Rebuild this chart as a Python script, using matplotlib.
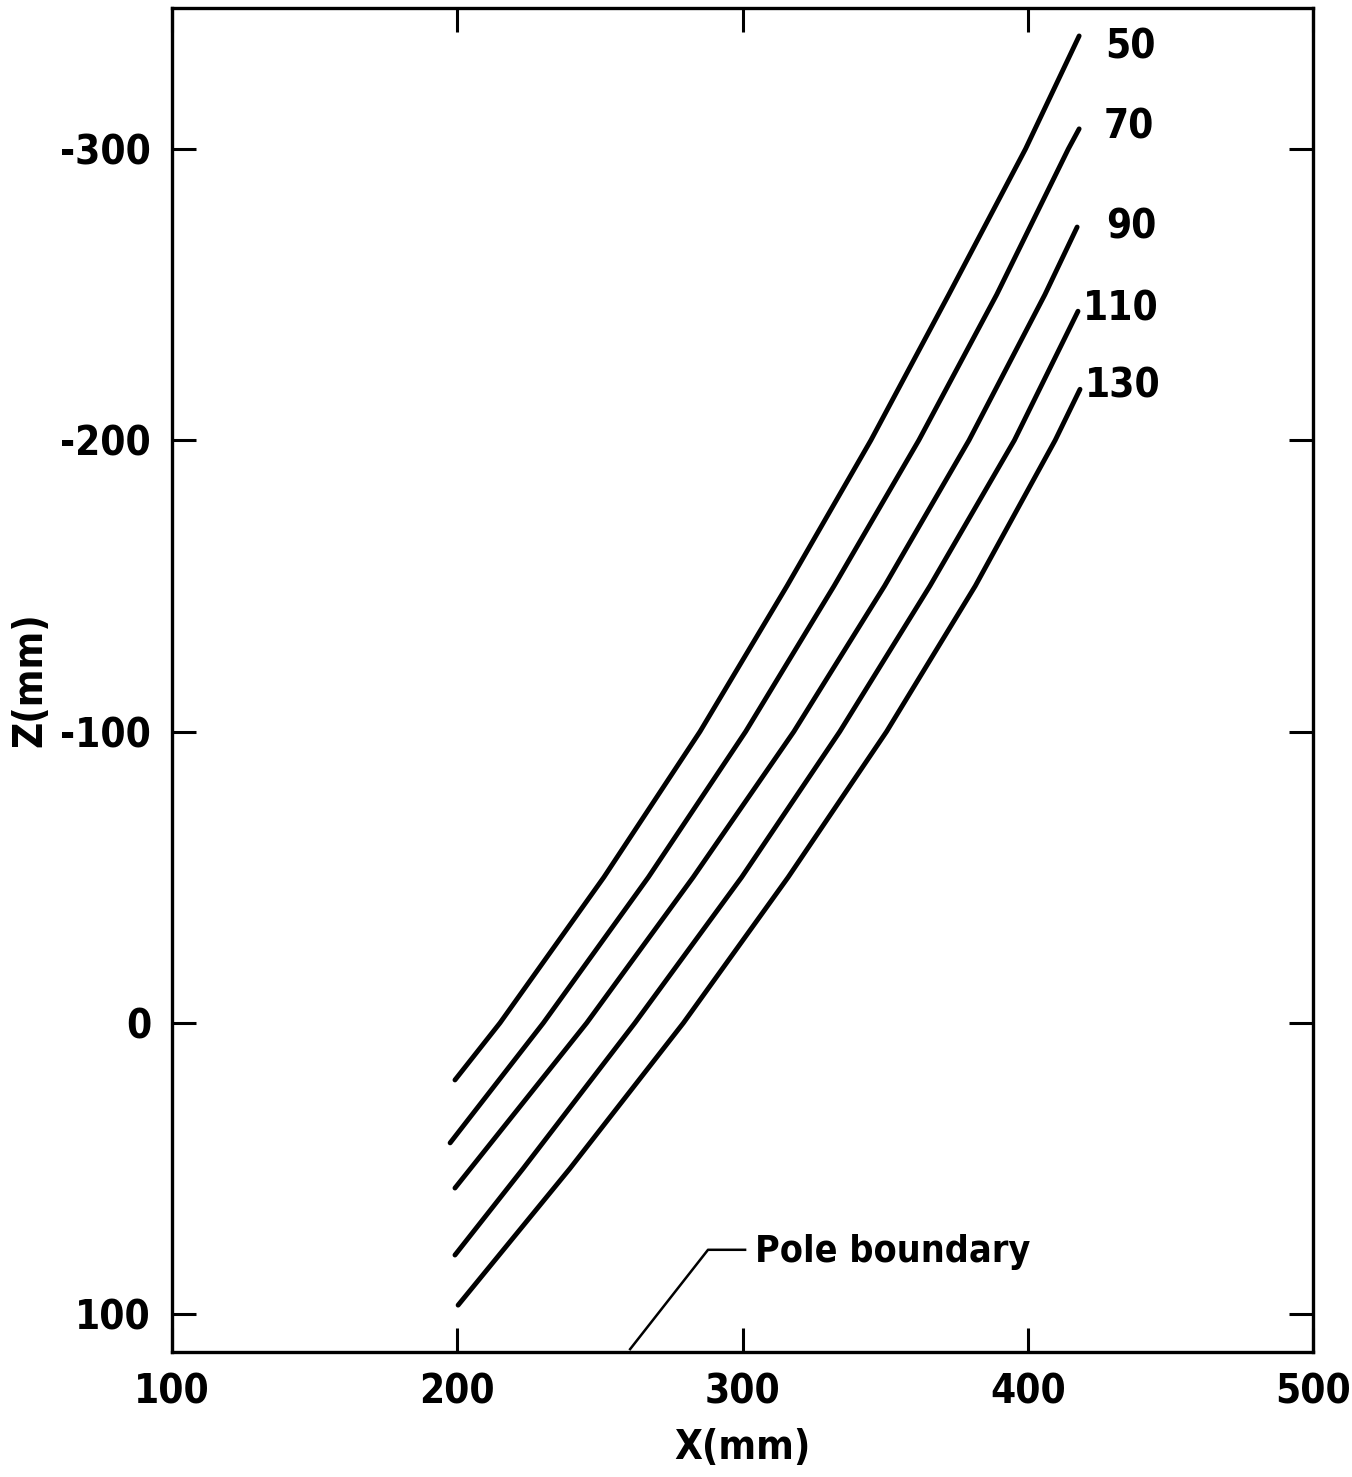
import matplotlib
matplotlib.use('Agg')
import matplotlib.pyplot as plt
import numpy as np

plt.rcParams['font.family'] = ['DejaVu Sans']
plt.rcParams['font.stretch'] = 'condensed'

# field lines, X (mm) vs Z (mm), labelled by their start value
labels = ['50', '70', '90', '110', '130']
x50 = [199.2, 215.0, 251.4, 285.1, 315.6, 345.0, 372.3, 399.2, 418.0]
z50 = [19.6, 0, -50, -100, -150, -200, -250, -300, -338.8]
x70 = [197.5, 230.2, 267.0, 301.1, 332.1, 361.8, 389.1, 414.2, 418.0]
z70 = [41.2, 0, -50, -100, -150, -200, -250, -300, -306.9]
x90 = [199.2, 245.4, 282.7, 318.0, 349.8, 379.4, 406.0, 417.3]
z90 = [56.7, 0, -50, -100, -150, -200, -250, -273.2]
x110 = [199.2, 223.1, 262.3, 299.7, 334.1, 365.7, 395.3, 417.6]
z110 = [79.7, 50, 0, -50, -100, -150, -200, -244.3]
x130 = [200.3, 239.5, 279.3, 316.0, 350.5, 381.6, 409.6, 418.3]
z130 = [96.9, 50, 0, -50, -100, -150, -200, -217.5]

# pole boundary leader
pole_x = [260.6, 287.9, 300.9]
pole_z = [112.0, 77.9, 77.9]

xs = [x50, x70, x90, x110, x130]
zs = [z50, z70, z90, z110, z130]
label_off = [(37, -8), (36, 1), (39, 0), (31, 1), (31, 2)]

fig = plt.figure(figsize=(13.52, 14.77), dpi=100)
ax = fig.add_axes([0.1272, 0.0846, 0.844, 0.91])

for x, z, lab, off in zip(xs, zs, labels, label_off):
    ax.plot(x, z, color='black', lw=3.5, solid_capstyle='round',
            solid_joinstyle='round')
    ax.annotate(lab, xy=(x[-1], z[-1]), xytext=off, textcoords='offset points',
                ha='center', va='center', fontsize=29, fontweight='bold')

ax.plot(pole_x, pole_z, color='black', lw=1.8, clip_on=False)
ax.text(304.4, 78.6, 'Pole boundary', fontsize=27, va='center', ha='left',
        fontweight='bold')

ax.set_xlim(100, 500)
ax.set_ylim(113.0, -348.4)
ax.set_xticks([100, 200, 300, 400, 500])
ax.set_yticks([-300, -200, -100, 0, 100])
ax.set_yticklabels(['-300', '-200', '-100', '0', '100'])

ax.tick_params(direction='in', length=17, width=2.2, top=True, right=True,
               labelsize=29, pad=15)
for lab in ax.get_xticklabels() + ax.get_yticklabels():
    lab.set_fontweight('bold')
for sp in ax.spines.values():
    sp.set_linewidth(2.4)

ax.set_xlabel('X(mm)', fontsize=29, fontweight='bold', labelpad=11)
ax.set_ylabel('Z(mm)', fontsize=29, fontweight='bold', labelpad=7)

fig.savefig('out.png', dpi=100)
